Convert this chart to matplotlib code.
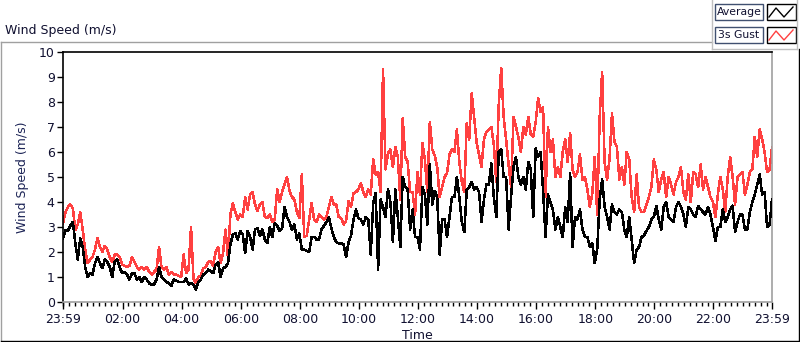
import matplotlib
matplotlib.use("Agg")
import matplotlib.pyplot as plt
from matplotlib.lines import Line2D
from matplotlib.patches import Rectangle
import numpy as np

plt.rcParams['font.family'] = ['DejaVu Sans']

# samples every 5 minutes, starting 23:59
step_min = 5

avg_speed = [
    2.55, 2.88, 2.85, 3.05, 3.2, 2.35, 1.7, 2.55, 2.2, 1.4, 1.0, 1.15,
    1.1, 1.55, 1.8, 1.55, 1.35, 1.7, 1.6, 1.4, 1.0, 1.6, 1.7, 1.4,
    1.15, 1.2, 1.1, 0.9, 1.15, 1.15, 0.9, 1.0, 0.8, 1.0, 0.9, 0.75,
    0.7, 0.7, 0.9, 1.4, 1.0, 0.9, 0.8, 0.75, 0.65, 0.9, 0.85, 0.8,
    0.8, 0.8, 0.95, 0.7, 0.75, 0.7, 0.5, 0.8, 0.9, 1.1, 1.15, 1.3,
    1.25, 1.15, 1.5, 1.6, 1.0, 1.35, 1.4, 1.55, 2.3, 2.7, 2.75, 2.5,
    2.85, 2.7, 1.95, 2.85, 2.6, 2.1, 2.9, 2.95, 2.65, 2.9, 2.5, 2.35,
    3.0, 2.6, 3.15, 3.05, 2.85, 2.95, 3.8, 3.4, 3.2, 2.9, 3.1, 2.5,
    2.75, 2.1, 2.1, 2.05, 2.0, 2.6, 2.6, 2.5, 2.5, 2.9, 3.05, 3.2,
    3.4, 2.95, 2.6, 2.4, 2.35, 2.35, 2.3, 1.8, 2.4, 2.65, 3.3, 3.7,
    3.35, 3.3, 3.1, 3.4, 3.3, 1.9, 3.95, 4.35, 1.3, 4.1, 3.8, 3.4,
    4.5, 4.0, 2.4, 4.5, 3.4, 2.2, 5.0, 4.6, 4.5, 2.9, 3.7, 2.6,
    2.6, 2.1, 4.6, 4.3, 3.1, 5.5, 3.9, 4.45, 4.2, 1.9, 3.3, 3.3,
    2.6, 3.4, 4.2, 4.2, 5.0, 4.2, 3.2, 2.8, 4.5, 4.6, 4.8, 4.5,
    4.6, 4.4, 3.2, 4.1, 4.7, 4.7, 5.55, 4.2, 3.4, 6.0, 6.1, 5.0,
    5.0, 2.9, 4.2, 5.4, 5.8, 5.0, 4.7, 5.0, 4.5, 5.6, 5.3, 3.4,
    6.15, 5.8, 6.0, 4.5, 2.6, 4.3, 4.0, 3.7, 2.9, 3.4, 3.0, 2.6,
    3.8, 3.2, 5.15, 2.2, 3.4, 3.3, 3.7, 2.9, 2.6, 2.6, 2.2, 2.35,
    1.55, 2.1, 4.1, 4.9, 3.8, 3.4, 2.9, 3.9, 3.6, 3.5, 3.7, 3.6,
    2.9, 2.6, 3.4, 2.5, 1.55, 2.1, 2.2, 2.6, 2.65, 2.85, 3.0, 3.3,
    3.4, 3.85, 3.3, 2.9, 3.8, 4.0, 3.4, 3.3, 3.2, 3.8, 4.0, 3.8,
    3.5, 3.0, 3.8, 3.7, 3.5, 3.4, 3.85, 3.7, 3.6, 3.5, 3.8, 3.5,
    3.0, 2.45, 3.0, 3.0, 3.7, 3.2, 3.4, 3.7, 3.85, 2.8, 3.2, 3.5,
    3.5, 2.9, 2.9, 3.6, 4.0, 4.3, 4.7, 5.1, 4.3, 4.4, 3.0, 3.1,
    4.1,
]

gust_speed = [
    3.15, 3.6, 3.8, 3.9, 3.75, 2.88, 3.1, 3.6, 2.9, 2.1, 1.55, 1.7,
    1.8, 2.1, 2.55, 2.2, 2.0, 2.25, 2.1, 1.8, 1.6, 1.9, 1.9, 1.8,
    1.5, 1.45, 1.4, 1.45, 1.8, 1.6, 1.4, 1.3, 1.4, 1.3, 1.4, 1.2,
    1.1, 1.2, 1.3, 2.2, 1.4, 1.3, 1.4, 1.1, 1.2, 1.1, 1.1, 1.05,
    1.0, 1.9, 1.15, 1.3, 3.0, 0.95, 0.75, 1.0, 1.05, 1.35, 1.4, 1.6,
    1.65, 1.45, 2.0, 2.2, 1.55, 1.95, 2.9, 1.8, 3.5, 3.95, 3.6, 3.3,
    3.5, 3.4, 4.2, 3.7, 4.3, 4.4, 3.9, 3.65, 3.9, 4.0, 3.4, 3.35,
    3.5, 3.2, 3.3, 4.5, 4.0, 4.4, 4.7, 5.0, 4.45, 4.2, 4.1, 3.6,
    3.35, 5.1, 2.6, 2.65, 3.3, 3.95, 3.3, 3.2, 3.5, 3.4, 3.3, 3.4,
    3.8, 4.2, 3.9, 3.9, 3.4, 3.35, 3.1, 3.25, 4.05, 3.8, 4.35, 4.4,
    4.5, 4.75, 4.4, 4.2, 4.5, 4.3, 5.7, 5.1, 5.2, 4.4, 9.3, 5.3,
    5.95, 6.1, 5.4, 6.2, 5.8, 4.1, 7.35, 5.8, 5.6, 4.4, 4.4, 3.5,
    5.2, 4.3, 6.35, 5.7, 4.4, 7.2, 6.1, 5.85, 5.4, 4.2, 4.6, 5.0,
    5.15, 5.9, 6.1, 6.0, 6.9, 5.6, 4.8, 4.4, 7.15, 6.5, 8.35, 7.4,
    6.4, 5.9, 5.4, 6.5, 6.8, 6.9, 7.0, 6.3, 4.8, 7.9, 9.35, 7.4,
    6.5, 5.5, 4.6, 7.4, 7.0, 6.6, 6.0, 7.0, 6.7, 7.4, 6.7, 6.6,
    7.2, 8.15, 7.6, 7.8, 4.2, 7.0, 6.0, 6.5, 5.0, 5.4, 5.0, 6.0,
    6.5, 5.6, 6.75, 5.3, 5.0, 5.2, 5.9, 4.9, 5.0, 4.5, 3.8, 4.35,
    5.8, 3.5, 7.4, 9.2, 5.6, 4.9, 5.7, 7.55, 6.4, 6.2, 4.9, 5.4,
    4.7, 6.0, 5.7, 4.2, 3.6, 5.1, 3.8, 3.6, 3.6, 3.9, 4.2, 4.6,
    5.7, 5.3, 4.4, 4.9, 5.2, 4.2, 5.0, 4.7, 4.3, 4.8, 5.0, 5.4,
    4.4, 4.1, 5.1, 4.0, 5.2, 5.1, 4.6, 5.5, 4.5, 5.0, 4.6, 4.2,
    4.0, 3.4, 4.3, 5.0, 4.5, 3.6, 5.0, 5.8, 5.0, 3.9, 5.0, 5.1,
    5.2, 4.3, 4.7, 5.2, 5.3, 6.6, 5.8, 6.9, 6.5, 6.0, 5.2, 5.3,
    6.2,
]

tick_labels = ["23:59", "02:00", "04:00", "06:00", "08:00", "10:00", "12:00",
               "14:00", "16:00", "18:00", "20:00", "22:00", "23:59"]
start_clock = 23 * 60 + 59

W, H = 800, 342


def fx(x):
    return x / W


def fy(y):
    return 1 - y / H


t = np.arange(len(avg_speed)) * step_min

fig = plt.figure(figsize=(W / 100, H / 100), dpi=100)
fig.patch.set_facecolor('white')

# plot area 63..772 x 52..302 px
ax = fig.add_axes([fx(63), fy(302), fx(772) - fx(63), fy(52) - fy(302)])
ax.plot(t, gust_speed, color='#ff4040', lw=1.1, antialiased=False, zorder=2)
ax.plot(t, avg_speed, color='black', lw=1.1, antialiased=False, zorder=3)

ax.set_xlim(0, 1440)
ax.set_ylim(0, 10)

major_pos = []
for lab in tick_labels[:-1]:
    h, m = lab.split(":")
    major_pos.append((int(h) * 60 + int(m) - start_clock) % 1440)
major_pos.append(1440)
ax.set_xticks(major_pos)
ax.set_xticklabels(tick_labels)
ax.set_xticks(np.arange(1, 1441, 12), minor=True)
ax.set_yticks(range(0, 11))

ax.tick_params(axis='x', which='major', direction='out', length=5, width=1,
               labelsize=9, pad=3, color='black', labelcolor='#101030')
ax.tick_params(axis='x', which='minor', direction='out', length=3, width=1,
               color='black')
ax.tick_params(axis='y', which='major', direction='out', length=4, width=1,
               labelsize=9, pad=2, color='black', labelcolor='#101030')

for side in ['left', 'top']:
    ax.spines[side].set_color('black')
    ax.spines[side].set_linewidth(1.2)
for side in ['right', 'bottom']:
    ax.spines[side].set_color('#a0a0a0')
    ax.spines[side].set_linewidth(1.2)

ax.set_xlabel("Time", fontsize=9, color='#101030', labelpad=2)
ax.set_ylabel("Wind Speed (m/s)", fontsize=9, color='#1c2456', labelpad=7)

# chart title
fig.text(fx(5), fy(34), "Wind Speed (m/s)", fontsize=9, color='#101030',
         ha='left', va='baseline')

# outer frame
frame = [
    ([0.5, 712], [42, 42], '#a0a0a0'),
    ([0.5, 0.5], [42, 341], '#a0a0a0'),
    ([0.5, 799], [340.5, 340.5], 'black'),
    ([798.5, 798.5], [49, 341], 'black'),
    ([712, 712], [0, 49], '#c0c0c0'),
    ([712, 797], [49, 49], '#c0c0c0'),
    ([796.5, 796.5], [0, 49], '#c0c0c0'),
]
for xs, ys, c in frame:
    fig.add_artist(Line2D([fx(v) for v in xs], [fy(v) for v in ys],
                          color=c, lw=1, transform=fig.transFigure))

# legend
legend_items = [("Average", 'black', 4), ("3s Gust", '#ff4040', 27)]
for name, col, top in legend_items:
    fig.add_artist(Rectangle((fx(715), fy(top + 16)), fx(763) - fx(715),
                             fy(top) - fy(top + 16), facecolor='white',
                             edgecolor='#405070', lw=1,
                             transform=fig.transFigure))
    fig.text(fx(739), fy(top + 8), name, fontsize=7.8, color='#101030',
             ha='center', va='center')
    fig.add_artist(Rectangle((fx(767), fy(top + 16)), fx(796) - fx(767),
                             fy(top) - fy(top + 16), facecolor='white',
                             edgecolor='black', lw=1,
                             transform=fig.transFigure))
    fig.add_artist(Line2D([fx(v) for v in [769, 776, 784, 793]],
                          [fy(v) for v in [top + 13, top + 4, top + 13, top + 3]],
                          color=col, lw=1, transform=fig.transFigure))

fig.savefig("out.png", dpi=100, facecolor='white')
